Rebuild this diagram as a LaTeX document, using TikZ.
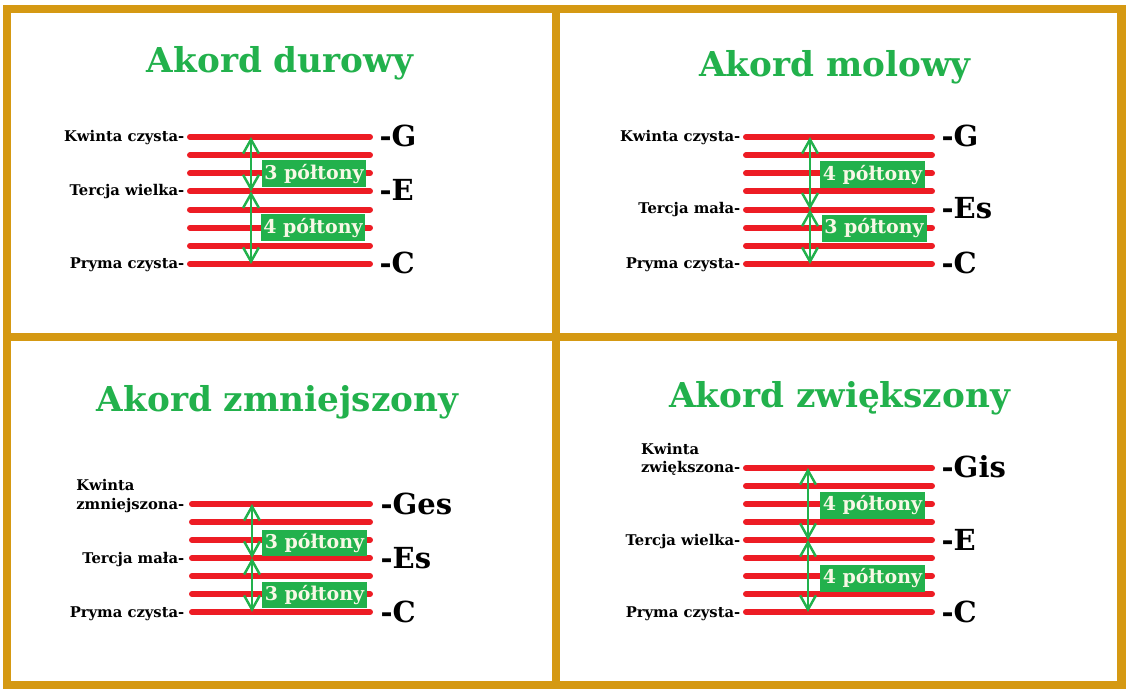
\documentclass[tikz,border=0pt]{standalone}
\usepackage{fontspec}
\setmainfont{DejaVu Serif}
\usepackage{tikz}
\usetikzlibrary{arrows.meta}
\definecolor{paintred}{RGB}{237,28,36}
\definecolor{paintgreen}{RGB}{34,177,76}
\definecolor{framegold}{RGB}{213,153,19}
\definecolor{cream}{RGB}{248,248,230}

\begin{document}
\begin{tikzpicture}[x=0.02cm, y=-0.02cm, >={Straight Barb[length=8pt,width=9pt]}, thick]
      \tikzstyle{frame} = [draw=framegold, line width=4.6pt]
      \tikzstyle{string} = [draw=paintred, line width=3.4pt, line cap=round]
      \tikzstyle{gap arrow} = [draw=paintgreen, line width=1.4pt, <->]
      \tikzstyle{title} = [text=paintgreen, font=\fontsize{19.5}{22}\selectfont\bfseries, anchor=base]
      \tikzstyle{interval} = [font=\fontsize{8.4}{10}\selectfont\bfseries, anchor=base east, inner sep=0pt]
      \tikzstyle{note} = [font=\fontsize{16.5}{18}\selectfont\bfseries, anchor=base west, inner sep=0pt]
      \tikzstyle{halftones} = [fill=paintgreen, text=cream, font=\fontsize{10.8}{12}\selectfont\bfseries,
         minimum width=2.1cm, minimum height=0.54cm, inner sep=1pt]
      \useasboundingbox (0,0) rectangle (1132,695);

      %frame
      \draw[frame] (7,9) rectangle (1121.5,685);
      \draw[frame] (556,9) -- (556,685);
      \draw[frame] (7,337) -- (1121.5,337);

      %durowy
      \node[title] (durowy) at (280,73) {Akord durowy};
      \foreach \i in {0,...,7} \draw[string] (190,137+18.14*\i) -- (370,137+18.14*\i);
      \coordinate (dur-G) at (251,137);
      \coordinate (dur-E) at (251,191.4);
      \coordinate (dur-C) at (251,264);
      \draw[gap arrow] (dur-G) -- (dur-E);
      \draw[gap arrow] (dur-E) -- (dur-C);
      \node[halftones] (dur-up) at (314,174) {3 półtony};
      \node[halftones] (dur-down) at (313,228) {4 półtony};
      \node[interval] (dur-kw) at (185,142) {Kwinta czysta-};
      \node[interval] (dur-te) at (185,196) {Tercja wielka-};
      \node[interval] (dur-pr) at (185,269) {Pryma czysta-};
      \node[note] (dur-nG) at (379,147) {-G};
      \node[note] (dur-nE) at (379,201) {-E};
      \node[note] (dur-nC) at (379,274) {-C};

      %molowy
      \node[title] (molowy) at (835,77) {Akord molowy};
      \foreach \i in {0,...,7} \draw[string] (746,137+18.14*\i) -- (932,137+18.14*\i);
      \coordinate (mol-G) at (810,137);
      \coordinate (mol-Es) at (810,209.6);
      \coordinate (mol-C) at (810,264);
      \draw[gap arrow] (mol-G) -- (mol-Es);
      \draw[gap arrow] (mol-Es) -- (mol-C);
      \node[halftones] (mol-up) at (872.5,175) {4 półtony};
      \node[halftones] (mol-down) at (874,228.5) {3 półtony};
      \node[interval] (mol-kw) at (741,142) {Kwinta czysta-};
      \node[interval] (mol-te) at (741,214) {Tercja mała-};
      \node[interval] (mol-pr) at (741,269) {Pryma czysta-};
      \node[note] (mol-nG) at (941,147) {-G};
      \node[note] (mol-nEs) at (941,219) {-Es};
      \node[note] (mol-nC) at (941,274) {-C};

      %zmniejszony
      \node[title] (zmniejszony) at (277.5,412) {Akord zmniejszony};
      \foreach \i in {0,...,6} \draw[string] (192,504+18*\i) -- (370,504+18*\i);
      \coordinate (zm-Ges) at (252,504);
      \coordinate (zm-Es) at (252,558);
      \coordinate (zm-C) at (252,612);
      \draw[gap arrow] (zm-Ges) -- (zm-Es);
      \draw[gap arrow] (zm-Es) -- (zm-C);
      \node[halftones] (zm-up) at (314.5,543) {3 półtony};
      \node[halftones] (zm-down) at (314.5,595) {3 półtony};
      \node[interval] (zm-kw) at (185,509) {zmniejszona-};
      \node[interval, anchor=base west] (zm-kw2) at ([yshift=0.37cm]zm-kw.base west) {Kwinta};
      \node[interval] (zm-te) at (185,563) {Tercja mała-};
      \node[interval] (zm-pr) at (185,617) {Pryma czysta-};
      \node[note] (zm-nGes) at (380,514) {-Ges};
      \node[note] (zm-nEs) at (380,568) {-Es};
      \node[note] (zm-nC) at (380,622) {-C};

      %zwiekszony
      \node[title] (zwiekszony) at (839.5,408) {Akord zwiększony};
      \foreach \i in {0,...,8} \draw[string] (746,468+18*\i) -- (932,468+18*\i);
      \coordinate (zw-Gis) at (808,468);
      \coordinate (zw-E) at (808,540);
      \coordinate (zw-C) at (808,612);
      \draw[gap arrow] (zw-Gis) -- (zw-E);
      \draw[gap arrow] (zw-E) -- (zw-C);
      \node[halftones] (zw-up) at (872.5,505.5) {4 półtony};
      \node[halftones] (zw-down) at (872.5,578.5) {4 półtony};
      \node[interval] (zw-kw) at (741,473) {zwiększona-};
      \node[interval, anchor=base west] (zw-kw2) at ([yshift=0.37cm]zw-kw.base west) {Kwinta};
      \node[interval] (zw-te) at (741,545) {Tercja wielka-};
      \node[interval] (zw-pr) at (741,617) {Pryma czysta-};
      \node[note] (zw-nGis) at (941,478) {-Gis};
      \node[note] (zw-nE) at (941,550) {-E};
      \node[note] (zw-nC) at (941,622) {-C};
\end{tikzpicture}
\end{document}
